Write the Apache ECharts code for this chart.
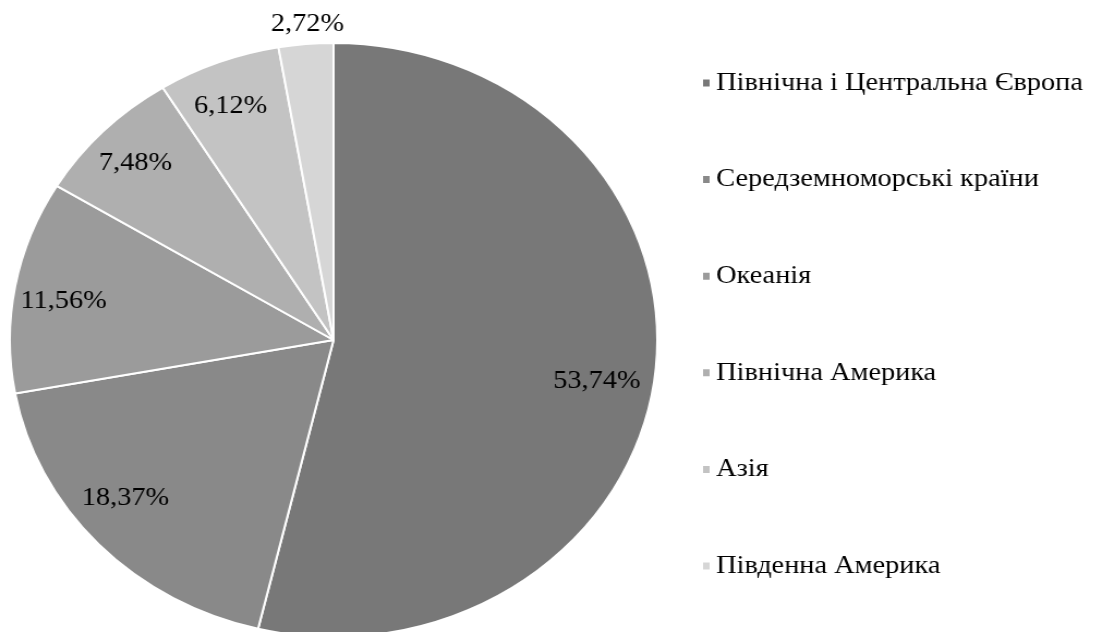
<!DOCTYPE html>
<html>
<head>
<meta charset="utf-8">
<script src="https://cdn.jsdelivr.net/npm/echarts@6/dist/echarts.min.js"></script>
<style>
html, body { margin: 0; padding: 0; background: #ffffff; overflow: hidden; }
#wrap { width: 1103px; height: 632px; overflow: hidden; }
#chart { width: 1012px; height: 632px; transform: scaleX(1.09); transform-origin: 0 0; }
</style>
</head>
<body>
<div id="wrap"><div id="chart"></div></div>
<script>
const categories = [
  'Північна і Центральна Європа',
  'Середземноморські країни',
  'Океанія',
  'Північна Америка',
  'Азія',
  'Південна Америка'
];
const shares = [53.74, 18.37, 11.56, 7.48, 6.12, 2.72];
const palette = ['#787878', '#898989', '#9b9b9b', '#afafaf', '#c3c3c3', '#d6d6d6'];
const outsideLabelIndex = 5;
// per-label nudges to mimic the reference's "best fit" label placement
const labelPads = [[0, 24, 0, 0], [0, 11, 0, 0], [0, 0, 0, 0], [0, 0, 0, 0], [0, 0, 0, 0], [0, 0, 0, 0]];
const labelShifts = [[0, 11], [0, -17], [3.6, 7], [0, 3], [-3.6, 5], [3.6, 5]];

const R = 297;
const center = [306, 340];
const fontFamily = '"Liberation Serif", "Times New Roman", serif';
const fmt = p => p.value.toFixed(2).replace('.', ',') + '%';

const baseData = categories.map((name, i) => ({ name, value: shares[i] }));

function labelled(showFn) {
  return baseData.map((d, i) => Object.assign({}, d, {
    label: showFn(i) ? { show: true, padding: labelPads[i], offset: labelShifts[i] } : { show: false }
  }));
}

const chart = echarts.init(document.getElementById('chart'), null, { renderer: 'canvas' });
chart.setOption({
  animation: false,
  color: palette,
  legend: {
    orient: 'vertical',
    left: 643,
    top: 70,
    padding: 0,
    itemWidth: 8,
    itemHeight: 9,
    itemGap: 70.6,
    icon: 'rect',
    data: categories,
    textStyle: { fontFamily, fontSize: 26, color: '#000', lineHeight: 26 }
  },
  series: [
    {
      type: 'pie',
      center,
      radius: [0, R],
      startAngle: 90,
      clockwise: true,
      avoidLabelOverlap: false,
      silent: true,
      itemStyle: { borderColor: '#ffffff', borderWidth: 2 },
      label: { show: false },
      labelLine: { show: false },
      data: baseData
    },
    {
      type: 'pie',
      center,
      radius: [R * 0.70, R],
      startAngle: 90,
      clockwise: true,
      avoidLabelOverlap: false,
      silent: true,
      legendHoverLink: false,
      itemStyle: { color: 'rgba(0,0,0,0)', borderWidth: 0 },
      label: {
        position: 'inside',
        formatter: fmt,
        fontFamily, fontSize: 26, color: '#000'
      },
      labelLine: { show: false },
      data: labelled(i => i !== outsideLabelIndex)
    },
    {
      type: 'pie',
      center,
      radius: [R, R + 44],
      startAngle: 90,
      clockwise: true,
      avoidLabelOverlap: false,
      silent: true,
      legendHoverLink: false,
      itemStyle: { color: 'rgba(0,0,0,0)', borderWidth: 0 },
      label: {
        position: 'inside',
        formatter: fmt,
        fontFamily, fontSize: 26, color: '#000'
      },
      labelLine: { show: false },
      data: labelled(i => i === outsideLabelIndex)
    }
  ]
});
</script>
</body>
</html>
